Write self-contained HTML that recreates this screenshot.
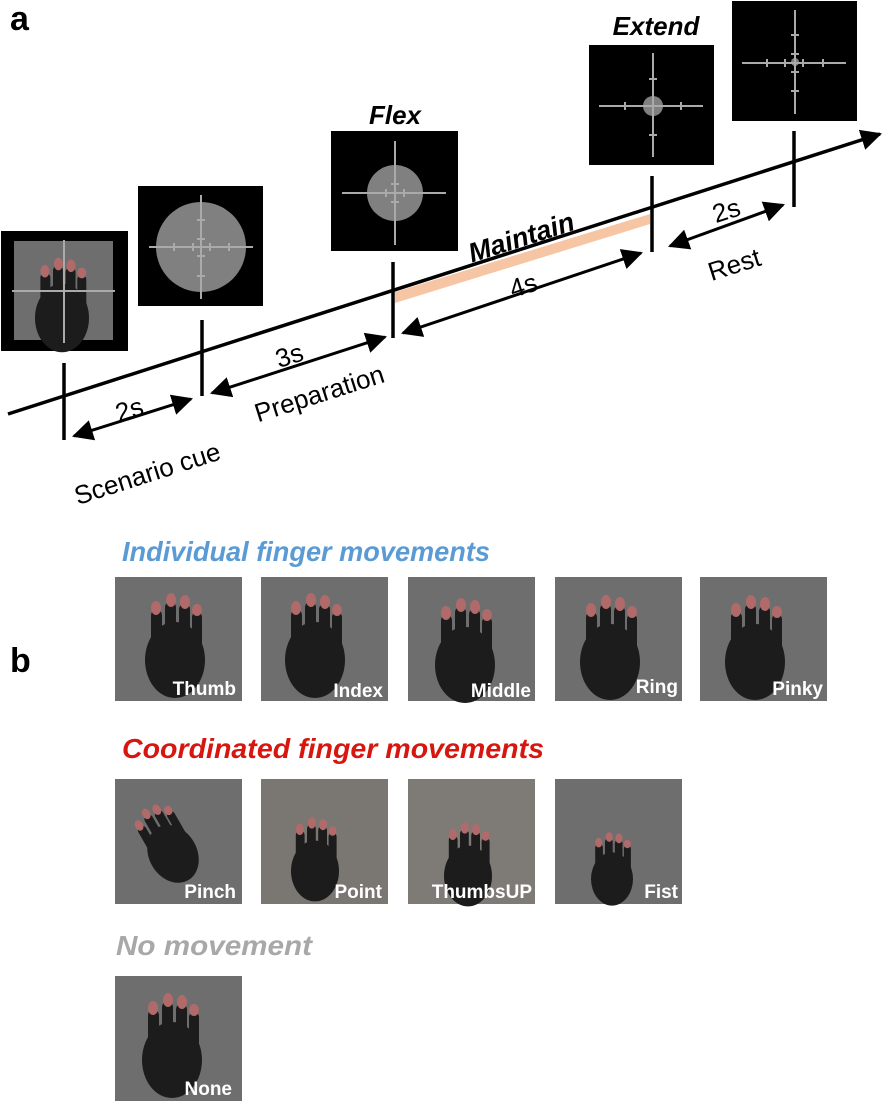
<!DOCTYPE html>
<html><head><meta charset="utf-8"><style>
html,body{margin:0;padding:0;background:#fff;}
svg{display:block;}
text{font-family:"Liberation Sans",sans-serif;}
</style></head><body>
<svg width="896" height="1105" viewBox="0 0 896 1105" xmlns="http://www.w3.org/2000/svg">
<defs>
<marker id="ah" viewBox="0 0 10 10" refX="9" refY="5" markerWidth="7" markerHeight="7" orient="auto-start-reverse" markerUnits="strokeWidth"><path d="M0,0 L10,5 L0,10 z" fill="#000"/></marker>
<marker id="ah2" viewBox="0 0 10 10" refX="9" refY="5" markerWidth="6" markerHeight="6" orient="auto-start-reverse" markerUnits="strokeWidth"><path d="M0,0 L10,5 L0,10 z" fill="#000"/></marker>
<g id="hand">
<ellipse cx="0" cy="20" rx="30" ry="38" fill="#1c1c1c"/>
<rect x="-24" y="-30" width="11" height="40" rx="5" fill="#1c1c1c"/>
<rect x="-10" y="-38" width="11" height="48" rx="5" fill="#1c1c1c"/>
<rect x="4" y="-36" width="11" height="46" rx="5" fill="#1c1c1c"/>
<rect x="17" y="-28" width="10" height="38" rx="5" fill="#1c1c1c"/>
<ellipse cx="-19" cy="-32" rx="5" ry="7" fill="#b06a6a"/>
<ellipse cx="-4" cy="-40" rx="5" ry="7" fill="#b06a6a"/>
<ellipse cx="10" cy="-38" rx="5" ry="7" fill="#b06a6a"/>
<ellipse cx="22" cy="-30" rx="5" ry="6" fill="#b06a6a"/>
</g>
</defs>
<text x="10" y="30" font-size="34" font-weight="bold">a</text>
<text x="10" y="672" font-size="34" font-weight="bold">b</text>

<rect x="1" y="231" width="127" height="120" fill="#000"/>
<rect x="14" y="241" width="99" height="99" fill="#6e6e6e"/>
<use href="#hand" transform="translate(62,300) scale(0.9)"/>
<line x1="12" y1="291" x2="115" y2="291" stroke="#aaa" stroke-width="2"/>
<line x1="64" y1="240" x2="64" y2="343" stroke="#aaa" stroke-width="2"/>

<rect x="138" y="186" width="125" height="120" fill="#000"/>
<circle cx="201" cy="247" r="45" fill="#808080"/>
<g stroke="#aaa" stroke-width="2">
<line x1="149" y1="247" x2="253" y2="247"/><line x1="201" y1="195" x2="201" y2="299"/>
<line x1="174" y1="243" x2="174" y2="251"/><line x1="193" y1="243" x2="193" y2="251"/><line x1="210" y1="243" x2="210" y2="251"/><line x1="229" y1="243" x2="229" y2="251"/>
<line x1="197" y1="220" x2="205" y2="220"/><line x1="197" y1="239" x2="205" y2="239"/><line x1="197" y1="256" x2="205" y2="256"/><line x1="197" y1="276" x2="205" y2="276"/>
</g>

<rect x="331" y="131" width="127" height="120" fill="#000"/>
<circle cx="395" cy="193" r="28" fill="#808080"/>
<g stroke="#aaa" stroke-width="2">
<line x1="342" y1="193" x2="446" y2="193"/><line x1="395" y1="141" x2="395" y2="245"/>
<line x1="386" y1="189" x2="386" y2="197"/><line x1="404" y1="189" x2="404" y2="197"/>
<line x1="391" y1="184" x2="399" y2="184"/><line x1="391" y1="202" x2="399" y2="202"/>
</g>
<text x="395" y="124" font-size="26" font-weight="bold" font-style="italic" text-anchor="middle">Flex</text>

<rect x="589" y="45" width="125" height="120" fill="#000"/>
<circle cx="653" cy="106" r="10" fill="#808080"/>
<g stroke="#aaa" stroke-width="2">
<line x1="599" y1="106" x2="703" y2="106"/><line x1="653" y1="53" x2="653" y2="157"/>
<line x1="625" y1="102" x2="625" y2="110"/><line x1="681" y1="102" x2="681" y2="110"/>
<line x1="649" y1="79" x2="657" y2="79"/><line x1="649" y1="135" x2="657" y2="135"/>
</g>
<text x="656" y="35" font-size="26" font-weight="bold" font-style="italic" text-anchor="middle">Extend</text>

<rect x="732" y="1" width="125" height="120" fill="#000"/>
<circle cx="795" cy="62" r="4" fill="#808080"/>
<g stroke="#aaa" stroke-width="2">
<line x1="742" y1="63" x2="846" y2="63"/><line x1="795" y1="10" x2="795" y2="114"/>
<line x1="767" y1="59" x2="767" y2="67"/><line x1="785" y1="59" x2="785" y2="67"/><line x1="803" y1="59" x2="803" y2="67"/><line x1="823" y1="59" x2="823" y2="67"/>
<line x1="791" y1="35" x2="799" y2="35"/><line x1="791" y1="54" x2="799" y2="54"/><line x1="791" y1="72" x2="799" y2="72"/><line x1="791" y1="91" x2="799" y2="91"/>
</g>

<polygon points="395,292 650,214 650,224 395,303" fill="#f6c6a4"/>
<line x1="8" y1="414" x2="880" y2="134" stroke="#000" stroke-width="3.5" marker-end="url(#ah2)"/>
<g stroke="#000" stroke-width="3.5">
<line x1="64" y1="363" x2="64" y2="440"/>
<line x1="202" y1="320" x2="202" y2="396"/>
<line x1="393" y1="262" x2="393" y2="338"/>
<line x1="652" y1="176" x2="652" y2="252"/>
<line x1="794" y1="131" x2="794" y2="207"/>
</g>
<g stroke="#000" stroke-width="3" fill="none">
<line x1="74" y1="436" x2="191" y2="399" marker-start="url(#ah)" marker-end="url(#ah)"/>
<line x1="212" y1="393" x2="385" y2="337" marker-start="url(#ah)" marker-end="url(#ah)"/>
<line x1="403" y1="333" x2="641" y2="253" marker-start="url(#ah)" marker-end="url(#ah)"/>
<line x1="670" y1="246" x2="783" y2="205" marker-start="url(#ah)" marker-end="url(#ah)"/>
</g>
<g font-size="26">
<text transform="translate(132,418) rotate(-17.7)" text-anchor="middle">2s</text>
<text transform="translate(292,364) rotate(-17.7)" text-anchor="middle">3s</text>
<text transform="translate(526,294) rotate(-17.7)" text-anchor="middle">4s</text>
<text transform="translate(729,219) rotate(-17.7)" text-anchor="middle">2s</text>
<text transform="translate(150,482) rotate(-17.7)" text-anchor="middle">Scenario cue</text>
<text transform="translate(322,402) rotate(-17.7)" text-anchor="middle">Preparation</text>
<text transform="translate(737,273) rotate(-17.7)" text-anchor="middle">Rest</text>
<text transform="translate(524,246) rotate(-17.7)" text-anchor="middle" font-weight="bold" font-style="italic" font-size="27">Maintain</text>
</g>

<text x="122" y="561" font-size="28" font-weight="bold" font-style="italic" fill="#5b9bd5" textLength="368" lengthAdjust="spacingAndGlyphs">Individual finger movements</text>
<text x="122" y="758" font-size="28" font-weight="bold" font-style="italic" fill="#d7170f" textLength="422" lengthAdjust="spacingAndGlyphs">Coordinated finger movements</text>
<text x="116" y="955" font-size="28" font-weight="bold" font-style="italic" fill="#a8a8a8" textLength="196" lengthAdjust="spacingAndGlyphs">No movement</text>

<g font-size="19" font-weight="bold" fill="#fff" text-anchor="end">
<rect x="115" y="577" width="127" height="124" fill="#6e6e6e"/><use href="#hand" transform="translate(175,640)"/><text x="236" y="695">Thumb</text>
<rect x="261" y="577" width="127" height="124" fill="#6e6e6e"/><use href="#hand" transform="translate(315,640)"/><text x="383" y="697">Index</text>
<rect x="408" y="577" width="127" height="124" fill="#6e6e6e"/><use href="#hand" transform="translate(465,645)"/><text x="531" y="697">Middle</text>
<rect x="555" y="577" width="127" height="124" fill="#6e6e6e"/><use href="#hand" transform="translate(610,642)"/><text x="678" y="693">Ring</text>
<rect x="700" y="577" width="127" height="124" fill="#6e6e6e"/><use href="#hand" transform="translate(755,642)"/><text x="823" y="695">Pinky</text>

<rect x="115" y="779" width="127" height="125" fill="#6e6e6e"/><use href="#hand" transform="translate(165,840) rotate(-30) scale(0.8)"/><text x="236" y="898">Pinch</text>
<rect x="261" y="779" width="127" height="125" fill="#7a7672"/><use href="#hand" transform="translate(315,855) scale(0.8)"/><text x="382" y="898">Point</text>
<rect x="408" y="779" width="127" height="125" fill="#7e7a76"/><use href="#hand" transform="translate(468,860) scale(0.8)"/><text x="532" y="898">ThumbsUP</text>
<rect x="555" y="779" width="127" height="125" fill="#6e6e6e"/><use href="#hand" transform="translate(612,865) scale(0.7)"/><text x="678" y="898">Fist</text>

<rect x="115" y="976" width="127" height="125" fill="#6e6e6e"/><use href="#hand" transform="translate(172,1040)"/><text x="232" y="1095">None</text>
</g>
</svg>
</body></html>
